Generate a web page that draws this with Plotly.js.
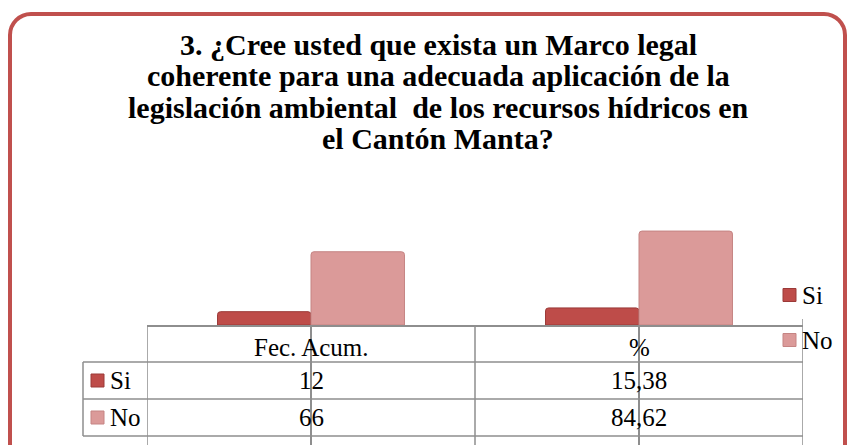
<!DOCTYPE html>
<html><head><meta charset="utf-8">
<script src="https://cdn.plot.ly/plotly-3.0.1.min.js"></script>
<style>
html,body{margin:0;padding:0;background:#fff;overflow:hidden;width:848px;height:445px;}
#frame{position:absolute;left:8px;top:12px;width:839px;height:470px;box-sizing:border-box;border:4px solid #c0504d;border-radius:23px;background:#fff;}
#chart{position:absolute;left:0;top:0;width:848px;height:445px;}
</style></head><body>
<div id="frame"></div><div id="chart"></div>
<script>
// ---- data ----
const titleLines = [
  '3. ¿Cree usted que exista un Marco legal',
  'coherente para una adecuada aplicación de la',
  'legislación ambiental\u00a0 de los recursos hídricos en',
  'el Cantón Manta?'
];
const categories = ['Fec. Acum.', '%'];
const seriesNames = ['Si', 'No'];
const siValues = [12, 15.38];
const noValues = [66, 84.62];

// ---- style ----
const seriesColors = ['#be4c49', '#db9a99'];
const seriesEdges = ['#9b3a38', '#c58483'];
const gridColor = '#8e8e8e';
const serif = '"Liberation Serif", "Times New Roman", Times, serif';

// layout geometry (pixels)
const W = 848, H = 445;
const plotL = 147, plotR = 803, plotT = 214, plotB = 325;
const xp = px => (px - plotL) / (plotR - plotL);
const yp = py => (plotB - py) / (plotB - plotT);

const seriesValues = [siValues, noValues];
const fmt = v => String(v).replace('.', ',');

const traces = seriesNames.map((name, i) => ({
  type: 'bar', name: name, x: categories, y: seriesValues[i],
  marker: {color: seriesColors[i], line: {color: seriesEdges[i], width: 1}, cornerradius: 3},
  hoverinfo: 'x+y+name'
}));

const rowLines = [362, 399, 436];
const rowCenters = [380.5, 417.5];
const legendCenters = [295, 340];
const shapes = [];
rowLines.forEach(py => shapes.push({type: 'line', xref: 'paper', yref: 'paper',
  x0: xp(83), x1: 1, y0: yp(py), y1: yp(py), line: {color: gridColor, width: 1.5}}));
shapes.push({type: 'line', xref: 'paper', yref: 'paper', x0: xp(83), x1: xp(83),
  y0: yp(362), y1: yp(436), line: {color: gridColor, width: 1.5}});
[-0.5, 0.5, 1.5].forEach((b, i) => shapes.push({type: 'line', xref: 'x', yref: 'paper',
  x0: b, x1: b, y0: i === 2 ? yp(319) : 0, y1: yp(450), line: {color: gridColor, width: 1.5}}));
// legend keys inside the data table and in the side legend
seriesNames.forEach((n, i) => {
  shapes.push({type: 'rect', xref: 'paper', yref: 'paper',
    x0: xp(91), x1: xp(104), y0: yp(rowCenters[i] - 6.5), y1: yp(rowCenters[i] + 6.5),
    fillcolor: seriesColors[i], line: {color: seriesEdges[i], width: 1}});
  shapes.push({type: 'rect', xref: 'paper', yref: 'paper',
    x0: xp(783), x1: xp(796), y0: yp(legendCenters[i] - 6.5), y1: yp(legendCenters[i] + 6.5),
    fillcolor: seriesColors[i], line: {color: seriesEdges[i], width: 1}});
});

const annotations = [];
const titleY = [44, 75.5, 107, 138.5];
titleLines.forEach((t, i) => annotations.push({xref: 'paper', yref: 'paper',
  x: xp(438), y: yp(titleY[i]), xanchor: 'center', yanchor: 'middle', showarrow: false,
  text: t, font: {family: serif, size: 30, weight: 'bold', color: '#000'}}));
categories.forEach((c, j) => annotations.push({xref: 'x', yref: 'paper', x: j, y: yp(347),
  xanchor: 'center', yanchor: 'middle', showarrow: false, text: c,
  font: {family: serif, size: 25, color: '#000'}}));
seriesNames.forEach((n, i) => {
  annotations.push({xref: 'paper', yref: 'paper', x: xp(108), y: yp(rowCenters[i]),
    xanchor: 'left', yanchor: 'middle', showarrow: false, text: n,
    font: {family: serif, size: 25, color: '#000'}});
  annotations.push({xref: 'paper', yref: 'paper', x: xp(800), y: yp(legendCenters[i]),
    xanchor: 'left', yanchor: 'middle', showarrow: false, text: n,
    font: {family: serif, size: 25, color: '#000'}});
  categories.forEach((c, j) => annotations.push({xref: 'x', yref: 'paper', x: j,
    y: yp(rowCenters[i]), xanchor: 'center', yanchor: 'middle', showarrow: false,
    text: fmt(seriesValues[i][j]), font: {family: serif, size: 25, color: '#000'}}));
});

const layout = {
  width: W, height: H,
  margin: {l: plotL, r: W - plotR, t: plotT, b: H - plotB, pad: 0},
  paper_bgcolor: 'rgba(0,0,0,0)', plot_bgcolor: 'rgba(0,0,0,0)',
  barmode: 'group', bargap: 0.43, bargroupgap: 0,
  xaxis: {type: 'category', range: [-0.5, 1.5], showline: true, linecolor: gridColor, linewidth: 1.5,
    ticks: 'outside', ticklen: 125, tickcolor: gridColor, tickwidth: 1.5,
    showticklabels: false, showgrid: false, zeroline: false, fixedrange: true},
  yaxis: {range: [0, 100], visible: false, fixedrange: true},
  showlegend: false,
  shapes: shapes, annotations: annotations
};
Plotly.newPlot('chart', traces, layout, {displayModeBar: false, staticPlot: true});
</script></body></html>
